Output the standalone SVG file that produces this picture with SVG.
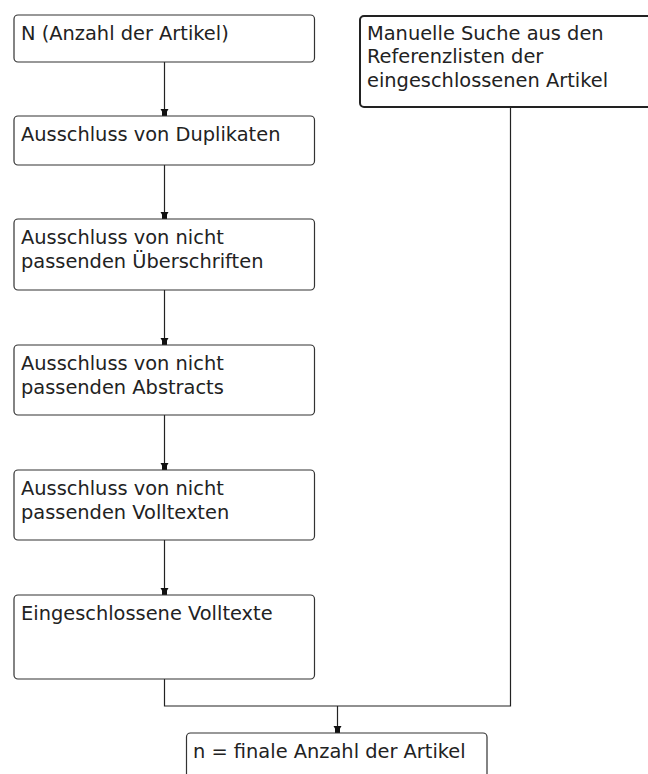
<svg xmlns="http://www.w3.org/2000/svg" width="648" height="774" viewBox="0 0 648 774">
<style>
.box{fill:#fff;stroke:#333;stroke-width:1.2}
.box2{fill:#fff;stroke:#222;stroke-width:2}
.t{font-family:"DejaVu Sans",sans-serif;font-size:19.4px;fill:#222}
.c{fill:none;stroke:#222;stroke-width:1.2}
</style>
<defs>
<marker id="ah" markerWidth="8" markerHeight="10" refX="7" refY="4" orient="auto" markerUnits="userSpaceOnUse">
<path d="M0,1.5 L7,1.5 L7,6.5 L0,6.5 Z M0,0 L7,4 L0,8 Z" fill="#111"/>
</marker>
</defs>
<rect width="648" height="774" fill="#fff"/>
<g id="connectors">
<line class="c" x1="164.5" y1="62" x2="164.5" y2="116" marker-end="url(#ah)"/>
<line class="c" x1="164.5" y1="165" x2="164.5" y2="219" marker-end="url(#ah)"/>
<line class="c" x1="164.5" y1="290" x2="164.5" y2="345" marker-end="url(#ah)"/>
<line class="c" x1="164.5" y1="415" x2="164.5" y2="470" marker-end="url(#ah)"/>
<line class="c" x1="164.5" y1="540" x2="164.5" y2="595" marker-end="url(#ah)"/>
<polyline class="c" points="164.5,679 164.5,706 510.5,706 510.5,107"/>
<line class="c" x1="337.5" y1="706" x2="337.5" y2="733" marker-end="url(#ah)"/>
</g>
<g id="n1">
<rect class="box" x="14" y="15" width="300.5" height="47" rx="4"/>
<text class="t" x="21" y="39.5">N (Anzahl der Artikel)</text>
</g>
<g id="n2">
<rect class="box" x="14" y="116" width="300.5" height="49" rx="4"/>
<text class="t" x="21" y="141">Ausschluss von Duplikaten</text>
</g>
<g id="n3">
<rect class="box" x="14" y="219" width="300.5" height="71" rx="4"/>
<text class="t" x="21" y="244">Ausschluss von nicht</text>
<text class="t" x="21" y="267.5">passenden Überschriften</text>
</g>
<g id="n4">
<rect class="box" x="14" y="345" width="300.5" height="70" rx="4"/>
<text class="t" x="21" y="370">Ausschluss von nicht</text>
<text class="t" x="21" y="393.5">passenden Abstracts</text>
</g>
<g id="n5">
<rect class="box" x="14" y="470" width="300.5" height="70" rx="4"/>
<text class="t" x="21" y="495">Ausschluss von nicht</text>
<text class="t" x="21" y="518.5">passenden Volltexten</text>
</g>
<g id="n6">
<rect class="box" x="14" y="595" width="300.5" height="84" rx="4"/>
<text class="t" x="21" y="620">Eingeschlossene Volltexte</text>
</g>
<g id="n7">
<rect class="box2" x="360" y="16" width="300" height="91" rx="4"/>
<text class="t" x="367" y="39.5">Manuelle Suche aus den</text>
<text class="t" x="367" y="63">Referenzlisten der</text>
<text class="t" x="367" y="86.5">eingeschlossenen Artikel</text>
</g>
<g id="n8">
<rect class="box" x="186.5" y="733" width="300.5" height="60" rx="4"/>
<text class="t" x="193" y="757.5">n = finale Anzahl der Artikel</text>
</g>
</svg>
